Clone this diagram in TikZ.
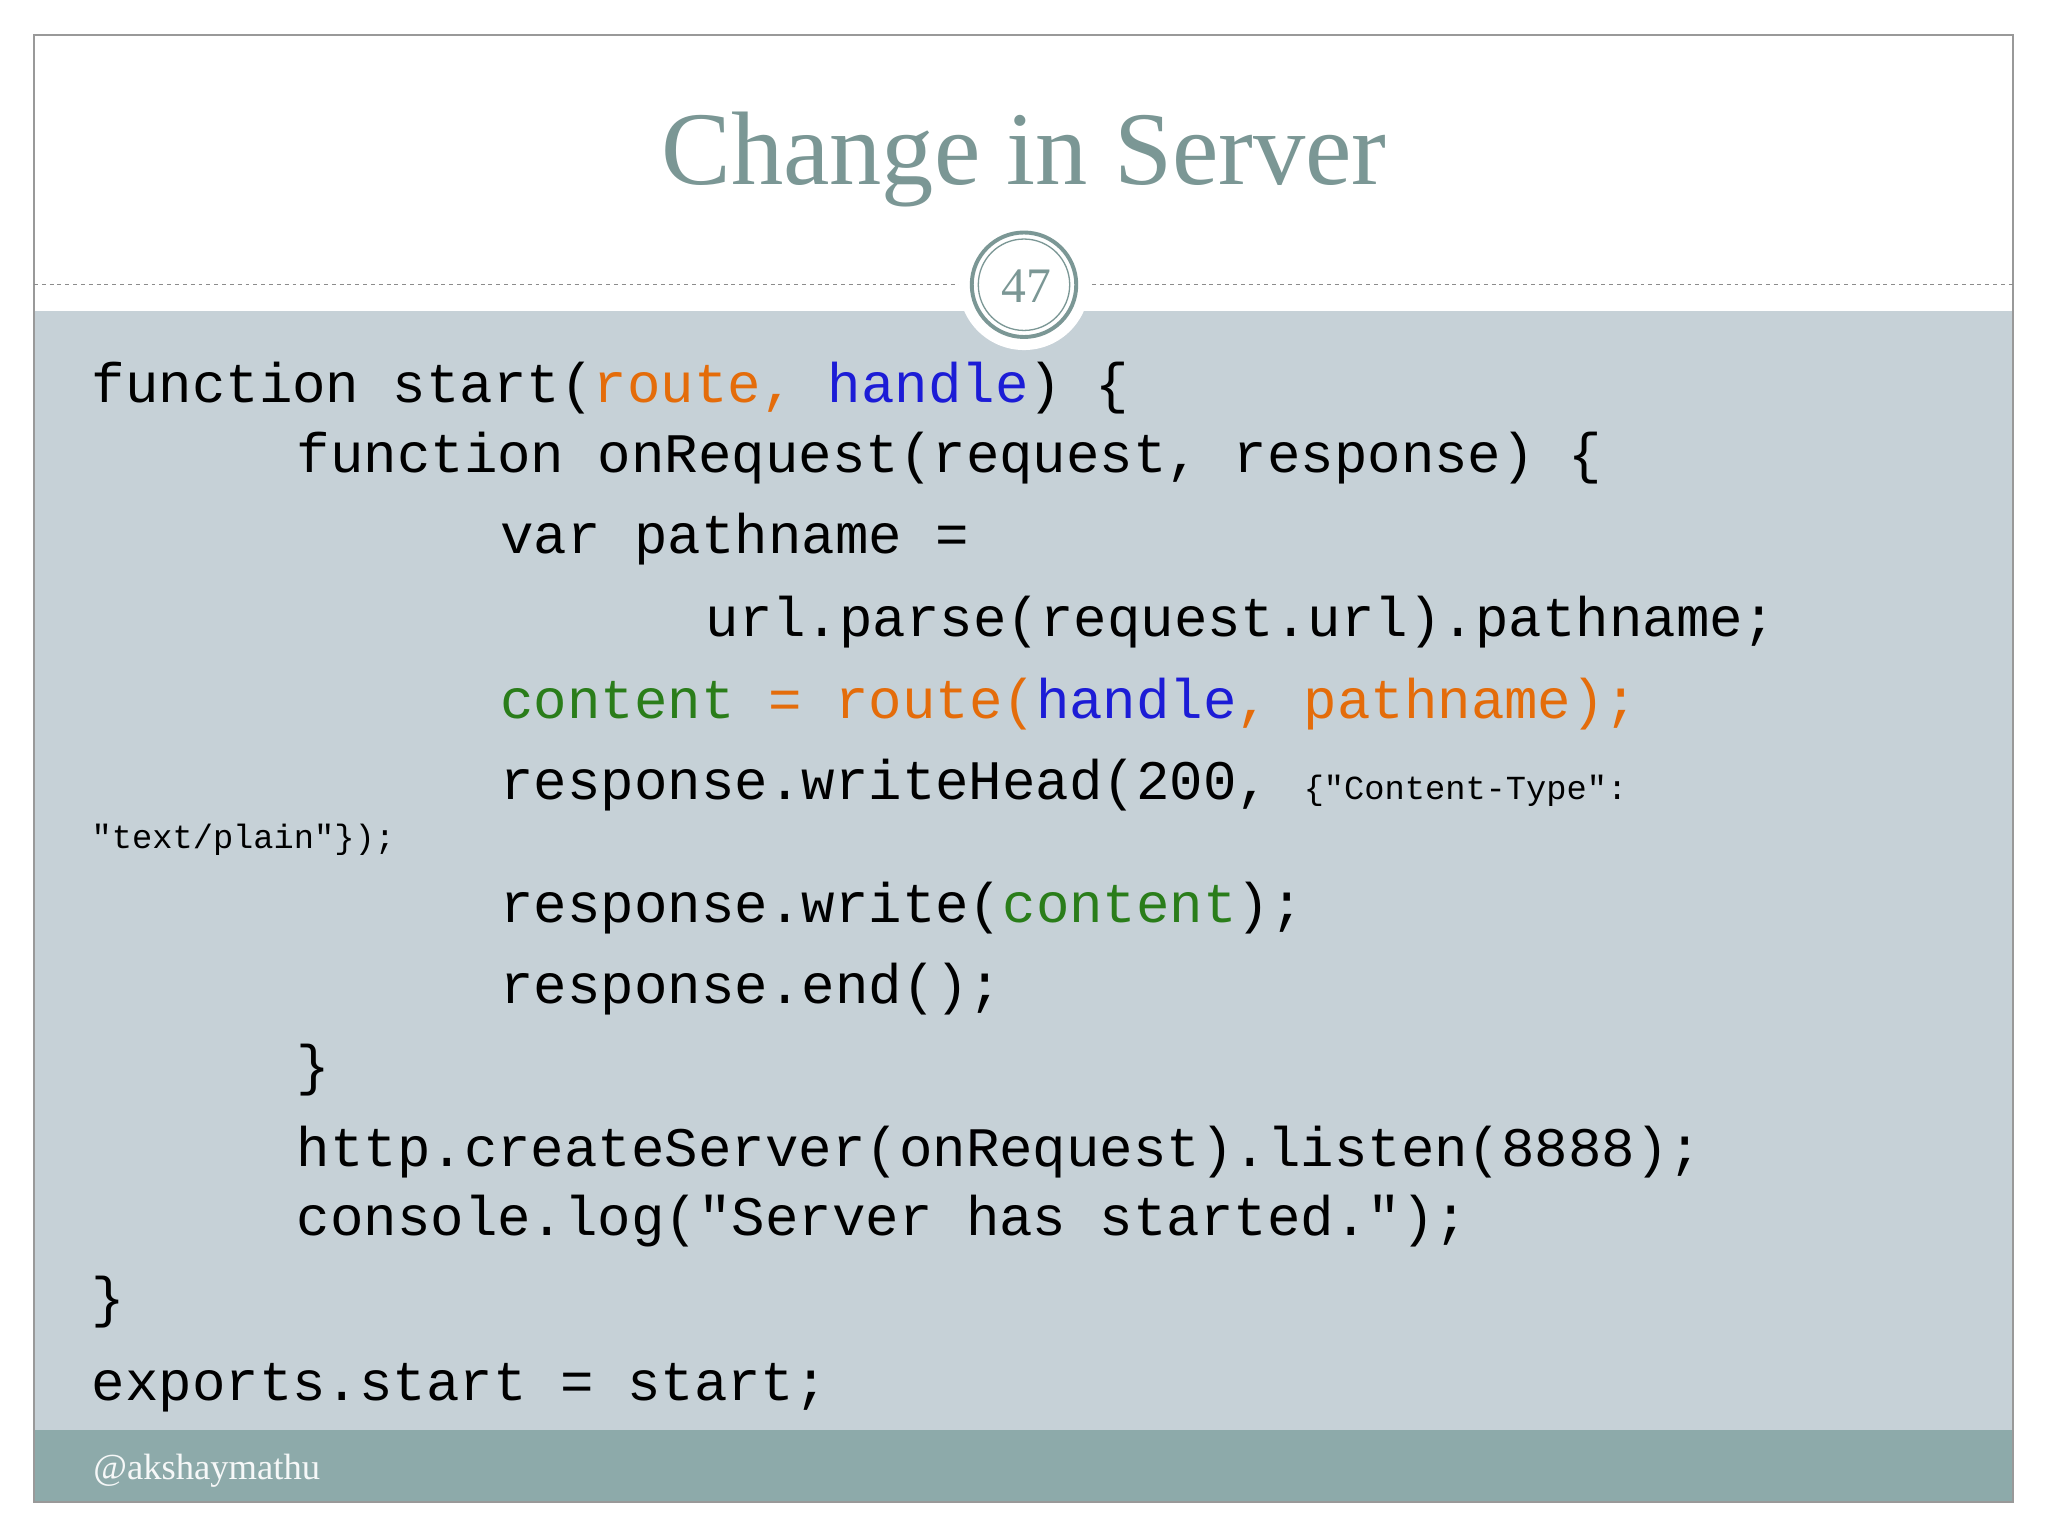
\documentclass[tikz,border=0pt]{standalone}
\usepackage{fontspec}
\setmainfont{Liberation Serif}
\setmonofont{Liberation Mono}
\definecolor{bodybg}{HTML}{C6D1D7}
\definecolor{footbg}{HTML}{8DAAAA}
\definecolor{titlec}{HTML}{7B9795}
\definecolor{oc}{HTML}{E46C0A}
\definecolor{bc}{HTML}{1C1CD6}
\definecolor{gc}{HTML}{2A7D1A}
\begin{document}
\begin{tikzpicture}[x=1pt,y=-1pt,
  code/.style={anchor=base west,inner sep=0pt,font=\fontsize{42.7}{44}\ttfamily},
  small/.style={anchor=base west,inner sep=0pt,font=\fontsize{25.8}{28}\ttfamily}]
\useasboundingbox (0,0) rectangle (1568,1176);
\fill[white] (0,0) rectangle (1568,1176);
\fill[bodybg] (26,238) rectangle (1541,1095);
\fill[footbg] (26,1095) rectangle (1541,1150);
\draw[gray!80,line width=1.2] (26,27) rectangle (1541,1150);
\draw[gray!90,dashed,line width=0.8] (26,218) -- (1541,218);
\fill[white] (784,218) circle (50);
\draw[titlec,line width=3] (784,218) circle (40);
\draw[titlec,line width=1] (784,218) circle (35);
\node[font=\fontsize{38}{40}\selectfont,text=titlec] (num) at (786,219) {47};
\node[font=\fontsize{80}{84}\selectfont,text=titlec] (title) at (784,122) {Change in Server};
\node[anchor=base west,font=\fontsize{28}{30}\selectfont,text=white!92!footbg] (foot) at (68,1133) {@akshaymathu};
\node[code] (l1) at (70,308) {function start(\textcolor{oc}{route,} \textcolor{bc}{handle}) \{};
\node[code] (l2) at (227,362) {function onRequest(request, response) \{};
\node[code] (l3) at (383,424) {var pathname =};
\node[code] (l4) at (540,487) {url.parse(request.url).pathname;};
\node[code] (l5) at (383,550) {\textcolor{gc}{content} \textcolor{oc}{=} \textcolor{oc}{route(}\textcolor{bc}{handle}\textcolor{oc}{, pathname);}};
\node[code] (l6) at (383,612) {response.writeHead(200, {\fontsize{25.8}{28}\selectfont\{"Content-Type":}};
\node[small] (l6b) at (70,650) {"text/plain"\});};
\node[code] (l7) at (383,706) {response.write(\textcolor{gc}{content});};
\node[code] (l8) at (383,768) {response.end();};
\node[code] (l9) at (227,830) {\}};
\node[code] (l10) at (227,893) {http.createServer(onRequest).listen(8888);};
\node[code] (l11) at (227,946) {console.log("Server has started.");};
\node[code] (l12) at (70,1008) {\}};
\node[code] (l13) at (70,1072) {exports.start = start;};
\end{tikzpicture}
\end{document}
